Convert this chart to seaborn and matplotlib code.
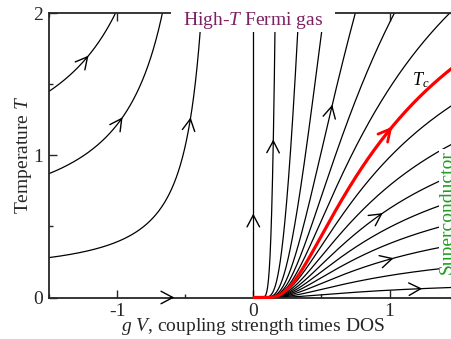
import numpy as np
import pandas as pd
import matplotlib
matplotlib.use("Agg")
import matplotlib.pyplot as plt
from matplotlib.patches import Rectangle
from matplotlib.ticker import MultipleLocator
import seaborn as sns

# flow lines T = C * exp(-1/g), one constant C per line
neg_C = [0.744, 0.447, 0.144]                    # g < 0 side
left_C = [1000, 40, 13.7, 7.6, 5.25, 4.0]        # g > 0, above Tc
tc_C = 3.2                                       # the red Tc line
right_C = [2.68, 2.14, 1.70, 1.34, 1.03, 0.73, 0.42, 0.14]  # below Tc

# arrow tips on the flow lines: (C, g at the tip)
arrow_lines = [(0.744, -1.21), (0.447, -0.96), (0.144, -0.46),
               (1000, 0.147), (7.6, 0.58), (1.70, 0.95), (0.73, 1.03), (0.14, 1.24)]
tc_arrow_g = 1.02
axis_arrow_g = -0.58   # on T = 0
vert_arrow_T = 0.59    # on g = 0

xticks = [-1, 0, 1]
yticks = [0, 1, 2]

sns.set_theme(style="ticks")
plt.rcParams["font.family"] = ["Liberation Serif", "DejaVu Serif"]
plt.rcParams["mathtext.fontset"] = "custom"
plt.rcParams["mathtext.rm"] = "Liberation Serif"
plt.rcParams["mathtext.it"] = "Liberation Serif:italic"
plt.rcParams["axes.unicode_minus"] = False
plt.rcParams["font.size"] = 14


def flow(C, g0, g1, n=3000):
    g = np.linspace(g0, g1, n)
    T = C * np.exp(-1.0 / g)
    keep = T < 2.5
    return g[keep], T[keep]


rows = []
k = 0
for C in neg_C:
    g, T = flow(C, -1.5, -0.01)
    rows.append(pd.DataFrame({"g": g, "T": T, "line": k}))
    k += 1
for C in left_C + right_C:
    g, T = flow(C, 0.005, 1.5)
    rows.append(pd.DataFrame({"g": g, "T": T, "line": k}))
    k += 1
rows.append(pd.DataFrame({"g": [0.0, 0.0], "T": [0.0, 2.0], "line": k}))
df = pd.concat(rows, ignore_index=True)

gt, Tt = flow(tc_C, 0.005, 1.5)
df_tc = pd.DataFrame({"g": gt, "T": Tt})

fig = plt.figure(figsize=(4.51, 3.39), dpi=100)
ax = fig.add_axes([49 / 451, 41.5 / 339, 408.6 / 451, 284.5 / 339])

sns.lineplot(data=df, x="g", y="T", units="line", estimator=None, sort=False,
             color="black", linewidth=0.9, ax=ax)
sns.lineplot(data=df_tc, x="g", y="T", estimator=None, sort=False,
             color="red", linewidth=2.3, ax=ax, zorder=3, clip_on=False)

ax.set_xlim(-1.5, 1.5)
ax.set_ylim(0, 2)
ax.set_xticks(xticks)
ax.set_yticks(yticks)
ax.xaxis.set_minor_locator(MultipleLocator(0.5))
ax.yaxis.set_minor_locator(MultipleLocator(0.5))
ax.tick_params(which="both", direction="in", top=True, right=True, width=1.0,
               labelsize=14, pad=4)
ax.tick_params(which="major", length=6)
ax.tick_params(which="minor", length=3)
for s in ax.spines.values():
    s.set_linewidth(1.3)

ax.set_xlabel(r"$g\ V$, coupling strength times DOS", fontsize=14, labelpad=-3)
ax.set_ylabel(r"Temperature $T$", fontsize=14, labelpad=0)


def tip_arrow(g, T, ux, uy, color="black", lw=1.0):
    sx, sy = 136.2, 142.2
    back = 4.0
    ax.annotate("", xy=(g, T), xytext=(g - back * ux / sx, T - back * uy / sy),
                arrowprops=dict(arrowstyle="->,head_length=0.85,head_width=0.45",
                                color=color, lw=lw, shrinkA=0, shrinkB=0,
                                mutation_scale=10),
                zorder=4)


def along(C, g):
    T = C * np.exp(-1.0 / g)
    dx, dy = 136.2, 142.2 * T / g ** 2
    n = np.hypot(dx, dy)
    return T, dx / n, dy / n


for C, g in arrow_lines:
    T, ux, uy = along(C, g)
    tip_arrow(g, T, ux, uy)
T, ux, uy = along(tc_C, tc_arrow_g)
tip_arrow(tc_arrow_g, T, ux, uy, color="red", lw=2.0)
tip_arrow(axis_arrow_g, 0.0, 1.0, 0.0)
tip_arrow(0.0, vert_arrow_T, 0.0, 1.0)

# white patches behind the two region labels
ax.add_patch(Rectangle((-0.607, 1.865), 1.21, 0.3, facecolor="white",
                       edgecolor="none", zorder=5, clip_on=False))
ax.add_patch(Rectangle((1.36, 0.085), 0.3, 0.96, facecolor="white",
                       edgecolor="none", zorder=5, clip_on=False))

ax.text(0.0, 1.945, r"High-$T$ Fermi gas", color="#7b2060", fontsize=14,
        ha="center", va="center", zorder=6)
ax.text(1.425, 0.6, "Superconductor", color="#1f9e1f", fontsize=14,
        rotation=90, ha="center", va="center", zorder=6)
ax.text(1.228, 1.53, r"$T_c$", color="black", fontsize=13,
        ha="center", va="center", zorder=6)

fig.savefig("out.png", dpi=100)
